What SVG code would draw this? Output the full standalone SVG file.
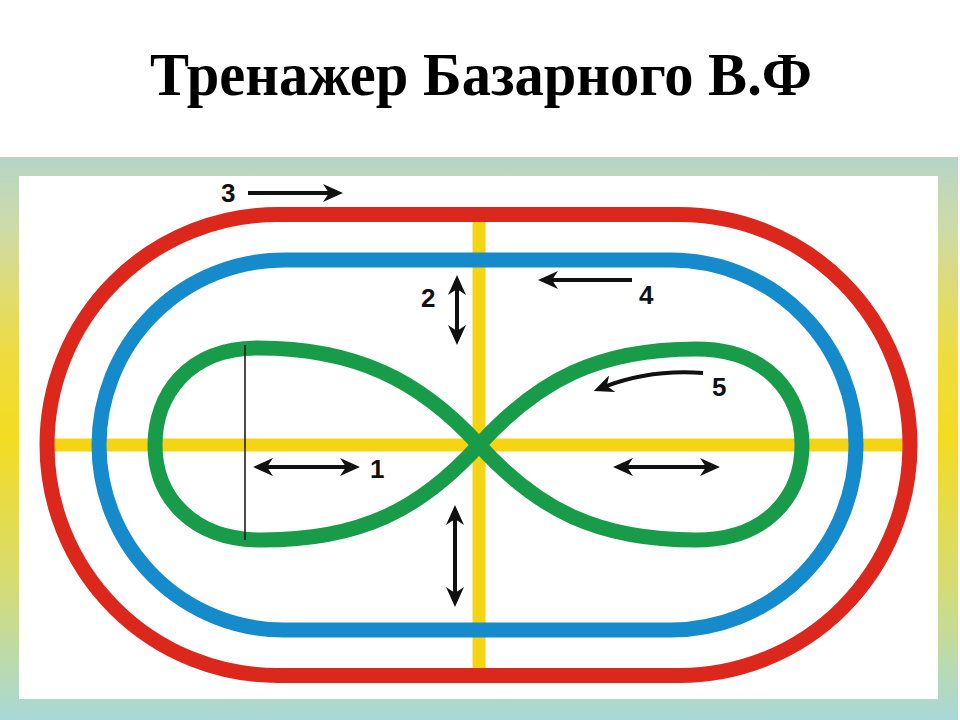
<svg xmlns="http://www.w3.org/2000/svg" width="960" height="720" viewBox="0 0 960 720">
  <defs>
    <linearGradient id="frameGrad" x1="0" y1="157" x2="0" y2="720" gradientUnits="userSpaceOnUse">
      <stop offset="0" stop-color="#b6d5c6"/>
      <stop offset="0.12" stop-color="#cddbaa"/>
      <stop offset="0.35" stop-color="#eedc40"/>
      <stop offset="0.5" stop-color="#f4dc22"/>
      <stop offset="0.75" stop-color="#d6dc70"/>
      <stop offset="1" stop-color="#a8d8d8"/>
    </linearGradient>
    <marker id="ah" viewBox="0 0 20 18" refX="9" refY="9" markerWidth="20" markerHeight="18" markerUnits="userSpaceOnUse" orient="auto-start-reverse">
      <path d="M0,0 L20,9 L0,18 L6,9 Z" fill="#111"/>
    </marker>
    <style>
      .title { font-family: "Liberation Serif", "DejaVu Serif", serif; font-weight: bold; font-size: 62px; fill: #000; }
      .num { font-family: "Liberation Sans", Arial, sans-serif; font-weight: bold; font-size: 26px; fill: #111; }
      .arrow { stroke: #111; stroke-width: 4; fill: none; marker-end: url(#ah); }
      .darrow { stroke: #111; stroke-width: 4; fill: none; marker-start: url(#ah); marker-end: url(#ah); }
      .track { fill: none; stroke-width: 15; }
      .yellow { stroke: #f5d414; stroke-width: 13; fill: none; }
    </style>
  </defs>

  <rect x="0" y="0" width="960" height="720" fill="#ffffff"/>

  <g id="title">
    <text class="title" x="150" y="95" textLength="662" lengthAdjust="spacingAndGlyphs">Тренажер Базарного В.Ф</text>
  </g>

  <g id="frame">
    <rect x="0" y="157" width="958" height="563" fill="url(#frameGrad)"/>
    <rect x="19" y="176" width="919" height="523" fill="#ffffff"/>
  </g>

  <g id="axes">
    <line class="yellow" x1="53" y1="445" x2="905" y2="445"/>
    <line class="yellow" x1="479" y1="222" x2="479" y2="668"/>
  </g>

  <g id="red-track">
    <path class="track" stroke="#dc281c" d="M277.5,214.5 H679.5 A230.5,230.5 0 0 1 679.5,675.5 H277.5 A230.5,230.5 0 0 1 277.5,214.5 Z"/>
  </g>

  <g id="blue-track">
    <path class="track" stroke="#158bcb" d="M284,260 H671 A185,185 0 0 1 671,630 H284 A185,185 0 0 1 284,260 Z"/>
  </g>

  <g id="green-eight">
    <path class="track" stroke="#189c4a" d="M479,445 C420,380 355,348 258,348 C188,348 155,395 155,445 C155,497 192,540 262,540 C360,540 420,510 479,445 C538,380 598,349 696,349 C768,349 802,395 802,445 C802,495 768,540 696,540 C598,540 538,510 479,445 Z"/>
    <line x1="245" y1="345" x2="245" y2="540" stroke="#111" stroke-width="1.5"/>
  </g>

  <g id="connectors">
    <line class="arrow" x1="248" y1="193" x2="332" y2="193"/>
    <line class="arrow" x1="632" y1="280" x2="549" y2="280"/>
    <line class="darrow" x1="457" y1="286" x2="457" y2="334"/>
    <line class="darrow" x1="264" y1="467" x2="349" y2="467"/>
    <line class="darrow" x1="455" y1="516" x2="455" y2="596"/>
    <line class="darrow" x1="624" y1="467" x2="709" y2="467"/>
    <path class="arrow" stroke-width="5" d="M703,373 Q650,369 604,387"/>
  </g>

  <g id="labels">
    <text class="num" x="221" y="202">3</text>
    <text class="num" x="421" y="307">2</text>
    <text class="num" x="639" y="304">4</text>
    <text class="num" x="370" y="478">1</text>
    <text class="num" x="712" y="396">5</text>
  </g>
</svg>
